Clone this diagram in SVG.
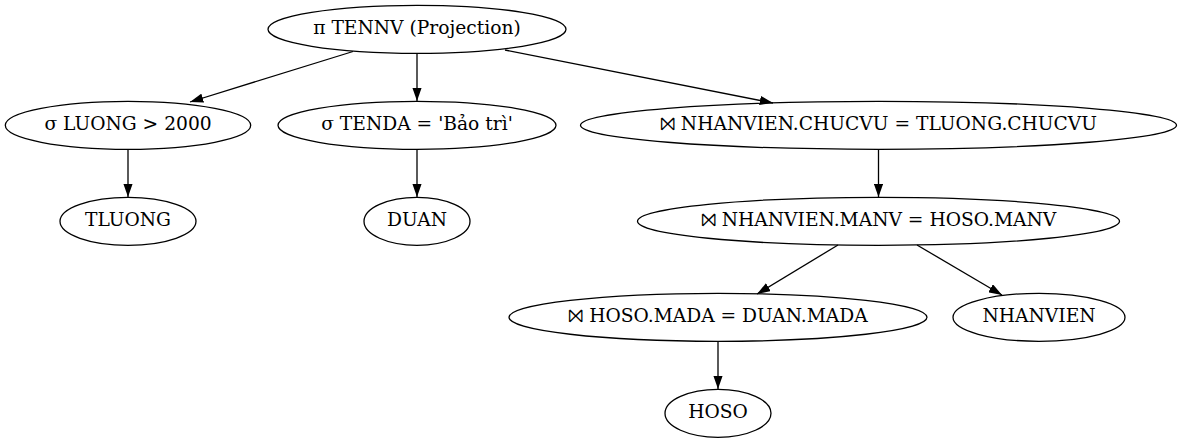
<svg xmlns="http://www.w3.org/2000/svg" width="1182" height="443" viewBox="0 0 1182 443">
<style>
.n ellipse{fill:none;stroke:#000;stroke-width:1.3}
.n text{font-family:"DejaVu Serif","Liberation Serif",serif;font-size:18.67px;text-anchor:middle;fill:#000}
.e line{stroke:#000;stroke-width:1.3}
</style>
<defs>
<marker id="ah" viewBox="0 0 10 7" refX="10" refY="3.5" markerWidth="13.3" markerHeight="9.3" markerUnits="userSpaceOnUse" orient="auto">
<path d="M0,0 L10,3.5 L0,7 z" fill="#000"/>
</marker>
</defs>
<rect width="1182" height="443" fill="#fff"/>
<g class="e">
<line x1="353" y1="51.5" x2="190" y2="102" marker-end="url(#ah)"/>
<line x1="417" y1="53.3" x2="417" y2="101" marker-end="url(#ah)"/>
<line x1="505" y1="50" x2="773" y2="103" marker-end="url(#ah)"/>
<line x1="128" y1="149.6" x2="128" y2="197" marker-end="url(#ah)"/>
<line x1="417" y1="149.6" x2="417" y2="197" marker-end="url(#ah)"/>
<line x1="878.5" y1="149.6" x2="878.5" y2="197" marker-end="url(#ah)"/>
<line x1="838" y1="245" x2="757" y2="294" marker-end="url(#ah)"/>
<line x1="917" y1="245" x2="1002" y2="295" marker-end="url(#ah)"/>
<line x1="718" y1="341.6" x2="718" y2="389" marker-end="url(#ah)"/>
</g>
<g class="n" id="root"><ellipse cx="417" cy="29.3" rx="149" ry="24"/><text x="417" y="34.3">π TENNV (Projection)</text></g>
<g class="n" id="luong"><ellipse cx="128" cy="125.3" rx="122.7" ry="24"/><text x="128" y="130.3">σ LUONG &gt; 2000</text></g>
<g class="n" id="tenda"><ellipse cx="417" cy="125.3" rx="139" ry="24"/><text x="417" y="130.3">σ TENDA = 'Bảo trì'</text></g>
<g class="n" id="chucvu"><ellipse cx="878.5" cy="125.3" rx="298" ry="24"/><text x="878.5" y="130.3">⨝ NHANVIEN.CHUCVU = TLUONG.CHUCVU</text></g>
<g class="n" id="tluong"><ellipse cx="128" cy="221.3" rx="68" ry="24"/><text x="128" y="226.3">TLUONG</text></g>
<g class="n" id="duan"><ellipse cx="417" cy="221.3" rx="53" ry="24"/><text x="417" y="226.3">DUAN</text></g>
<g class="n" id="manv"><ellipse cx="878.5" cy="221.3" rx="241" ry="24"/><text x="878.5" y="226.3">⨝ NHANVIEN.MANV = HOSO.MANV</text></g>
<g class="n" id="mada"><ellipse cx="718" cy="317.3" rx="209" ry="24"/><text x="718" y="322.3">⨝ HOSO.MADA = DUAN.MADA</text></g>
<g class="n" id="nhanvien"><ellipse cx="1039" cy="317.3" rx="86" ry="24"/><text x="1039" y="322.3">NHANVIEN</text></g>
<g class="n" id="hoso"><ellipse cx="718" cy="413.3" rx="53" ry="24"/><text x="718" y="418.3">HOSO</text></g>
</svg>
